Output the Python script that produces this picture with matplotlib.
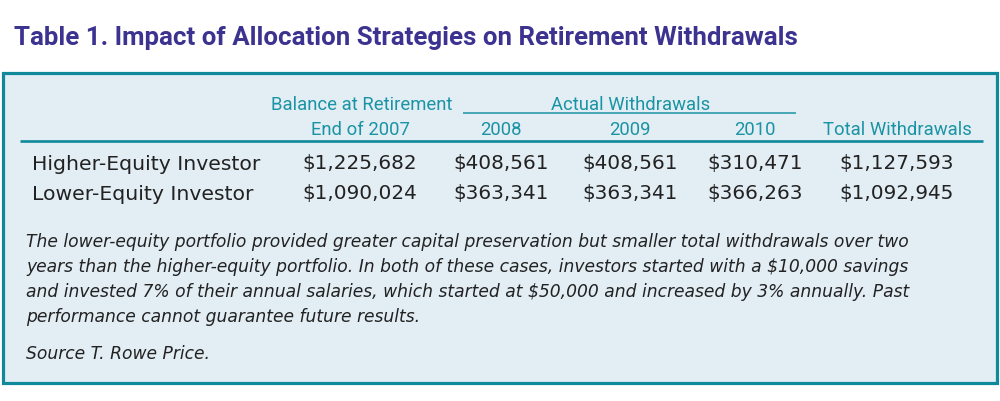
import matplotlib
matplotlib.use('Agg')
import matplotlib.pyplot as plt
from matplotlib.patches import Rectangle

# table contents
title = 'Table 1. Impact of Allocation Strategies on Retirement Withdrawals'
investors = ['Higher-Equity Investor', 'Lower-Equity Investor']
balance_2007 = [1225682, 1090024]
withdrawals_2008 = [408561, 363341]
withdrawals_2009 = [408561, 363341]
withdrawals_2010 = [310471, 366263]
total_withdrawals = [1127593, 1092945]
header_top = ['Balance at Retirement', 'Actual Withdrawals']
header_bottom = ['End of 2007', '2008', '2009', '2010', 'Total Withdrawals']
notes = [
    'The lower-equity portfolio provided greater capital preservation but smaller total withdrawals over two',
    'years than the higher-equity portfolio. In both of these cases, investors started with a $10,000 savings',
    'and invested 7% of their annual salaries, which started at $50,000 and increased by 3% annually. Past',
    'performance cannot guarantee future results.',
]
source = 'Source T. Rowe Price.'

purple = '#3c3391'
teal = '#1a94a4'
border = '#10899a'
fill = '#e2edf4'
ink = '#222222'

narrow = ['Roboto', 'DejaVu Sans']
body = ['DejaVu Sans']

fig = plt.figure(figsize=(10, 4.01), dpi=100)
ax = fig.add_axes([0, 0, 1, 1])
ax.set_xlim(0, 1000)
ax.set_ylim(401, 0)
ax.axis('off')

ax.text(14, 45, title, family=narrow, fontweight='bold', fontsize=18.6,
        color=purple, va='baseline', ha='left')

ax.add_patch(Rectangle((2.5, 72.5), 994.5, 310.5, facecolor=fill,
                       edgecolor=border, linewidth=2.3))

col_x = [360, 501, 630, 755, 897]

# header
hsize = 13.3
ax.text(362, 110, header_top[0], family=narrow, fontsize=hsize, color=teal,
        ha='center', va='baseline')
ax.text(631, 109.5, header_top[1], family=narrow, fontsize=hsize, color=teal,
        ha='center', va='baseline')
ax.plot([463, 796], [112.8, 112.8], color=teal, lw=1.1, solid_capstyle='butt')
for x, lab in zip(col_x, header_bottom):
    ax.text(x, 135, lab, family=narrow, fontsize=hsize, color=teal,
            ha='center', va='baseline')
ax.plot([20, 983], [141, 141], color=border, lw=1.9, solid_capstyle='butt')

# rows
row_y = [169.5, 199.5]
columns = [balance_2007, withdrawals_2008, withdrawals_2009, withdrawals_2010, total_withdrawals]
for i, name in enumerate(investors):
    ax.text(32, row_y[i], name, family=body, fontsize=14.7, color=ink,
            ha='left', va='baseline')
    for x, col in zip(col_x, columns):
        ax.text(x, row_y[i], f'${col[i]:,}', family=body, fontsize=14.4,
                color=ink, ha='center', va='baseline')

# notes
for j, line in enumerate(notes):
    ax.text(26, 246.7 + 25 * j, line, family=body, fontsize=12.3,
            style='italic', color=ink, ha='left', va='baseline')
ax.text(26, 359, source, family=body, fontsize=12.3, style='italic',
        color=ink, ha='left', va='baseline')

fig.savefig('out.png', dpi=100, facecolor='white')
